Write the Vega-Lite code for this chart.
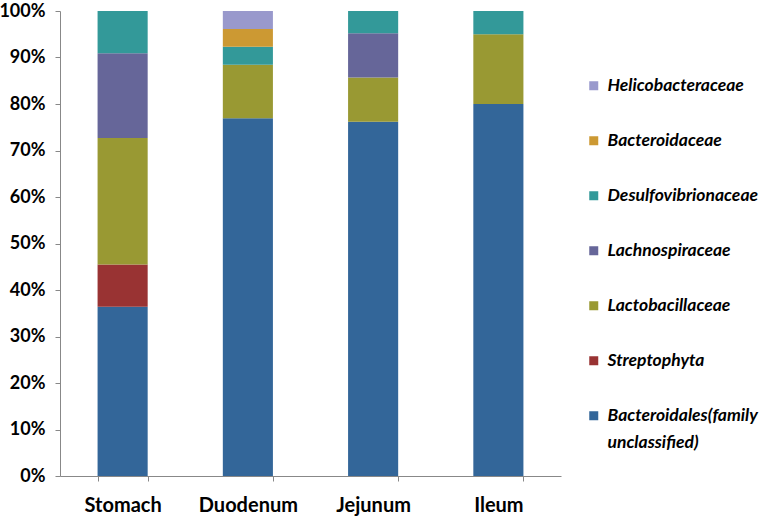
{
  "$schema": "https://vega.github.io/schema/vega-lite/v6.json",
  "width": 501,
  "height": 465,
  "autosize": {"type": "none"},
  "padding": {"left": 60, "top": 11, "right": 206, "bottom": 44},
  "background": "white",
  "config": {
    "view": {"stroke": null},
    "font": "Lato"
  },
  "data": {
    "values": [
      {"site": "Stomach", "family": "Bacteroidales(family unclassified)", "pct": 36.4, "rank": 1},
      {"site": "Stomach", "family": "Streptophyta", "pct": 9.1, "rank": 2},
      {"site": "Stomach", "family": "Lactobacillaceae", "pct": 27.2, "rank": 3},
      {"site": "Stomach", "family": "Lachnospiraceae", "pct": 18.2, "rank": 4},
      {"site": "Stomach", "family": "Desulfovibrionaceae", "pct": 9.1, "rank": 5},
      {"site": "Duodenum", "family": "Bacteroidales(family unclassified)", "pct": 76.9, "rank": 1},
      {"site": "Duodenum", "family": "Lactobacillaceae", "pct": 11.5, "rank": 3},
      {"site": "Duodenum", "family": "Desulfovibrionaceae", "pct": 3.85, "rank": 5},
      {"site": "Duodenum", "family": "Bacteroidaceae", "pct": 3.85, "rank": 6},
      {"site": "Duodenum", "family": "Helicobacteraceae", "pct": 3.85, "rank": 7},
      {"site": "Jejunum", "family": "Bacteroidales(family unclassified)", "pct": 76.2, "rank": 1},
      {"site": "Jejunum", "family": "Lactobacillaceae", "pct": 9.5, "rank": 3},
      {"site": "Jejunum", "family": "Lachnospiraceae", "pct": 9.5, "rank": 4},
      {"site": "Jejunum", "family": "Desulfovibrionaceae", "pct": 4.8, "rank": 5},
      {"site": "Ileum", "family": "Bacteroidales(family unclassified)", "pct": 80, "rank": 1},
      {"site": "Ileum", "family": "Lactobacillaceae", "pct": 15, "rank": 3},
      {"site": "Ileum", "family": "Desulfovibrionaceae", "pct": 5, "rank": 5}
    ]
  },
  "mark": {"type": "bar"},
  "encoding": {
    "x": {
      "field": "site",
      "type": "nominal",
      "sort": ["Stomach", "Duodenum", "Jejunum", "Ileum"],
      "scale": {"paddingInner": 0.6, "paddingOuter": 0.3},
      "axis": {
        "title": null,
        "labelAngle": 0,
        "labelFontSize": 20,
        "labelFontWeight": "bold",
        "labelColor": "black",
        "labelPadding": 14,
        "domainColor": "#888888",
        "tickColor": "#888888",
        "tickSize": 5,
        "tickBand": "extent",
        "grid": false
      }
    },
    "y": {
      "field": "pct",
      "type": "quantitative",
      "stack": "normalize",
      "scale": {"domain": [0, 1], "nice": false},
      "axis": {
        "title": null,
        "format": ".0%",
        "values": [0, 0.1, 0.2, 0.3, 0.4, 0.5, 0.6, 0.7, 0.8, 0.9, 1],
        "labelFontSize": 18,
        "labelFontWeight": "bold",
        "labelColor": "black",
        "labelPadding": 10,
        "domainColor": "#888888",
        "tickColor": "#888888",
        "tickSize": 5,
        "grid": false
      }
    },
    "order": {"field": "rank", "type": "quantitative", "sort": "ascending"},
    "color": {
      "field": "family",
      "type": "nominal",
      "scale": {
        "domain": ["Helicobacteraceae", "Bacteroidaceae", "Desulfovibrionaceae", "Lachnospiraceae", "Lactobacillaceae", "Streptophyta", "Bacteroidales(family unclassified)"],
        "range": ["#9999CC", "#CC9933", "#339999", "#666699", "#999933", "#993333", "#336699"]
      },
      "legend": {
        "title": null,
        "orient": "none",
        "legendX": 525,
        "legendY": 66,
        "symbolType": "square",
        "symbolSize": 81,
        "symbolStrokeWidth": 0,
        "symbolOpacity": 1,
        "labelFontSize": 17.5,
        "labelFontWeight": "bold",
        "labelFontStyle": "italic",
        "labelColor": "black",
        "labelOffset": 5,
        "labelLimit": 300,
        "rowPadding": 36,
        "encode": {"labels": {"update": {"lineHeight": {"value": 27}}}},
        "labelExpr": "datum.label == 'Bacteroidales(family unclassified)' ? ['Bacteroidales(family', 'unclassified)'] : datum.label"
      }
    }
  }
}
